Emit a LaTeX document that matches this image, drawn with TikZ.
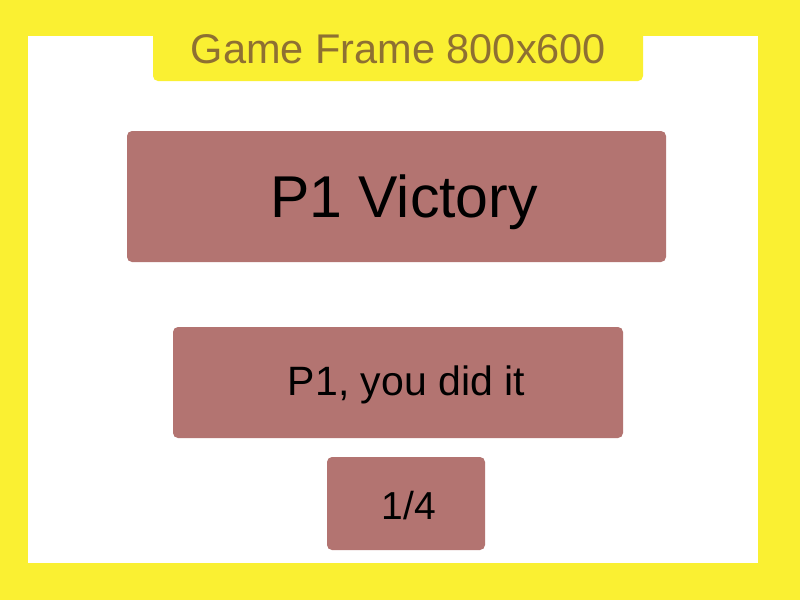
\documentclass[tikz,border=0pt]{standalone}
\usepackage{fontspec}
\setmainfont{Liberation Sans}
\definecolor{frameyellow}{RGB}{250,240,50}
\definecolor{titlebrown}{RGB}{142,112,50}
\definecolor{panelred}{RGB}{179,116,113}
\tikzset{
	panel/.style={rectangle, fill=panelred, rounded corners=5pt, inner sep=0pt},
	caption/.style={anchor=base, inner sep=0pt, text=black}
}

\begin{document}
\begin{tikzpicture}[x=1pt, y=-1pt]
		\useasboundingbox (0, 0) rectangle (800, 600);
		\fill[frameyellow] (0, 0) rectangle (800, 600);
		\fill[white] (28, 36) rectangle (758, 563);
		\fill[frameyellow, rounded corners=5pt] (153, 20) rectangle (643, 81);
		\fill[frameyellow] (153, 20) rectangle (643, 60);

		\node[caption, text=titlebrown, font=\fontsize{41.5}{44}\selectfont] (title) at (398.5, 63) {Game Frame 800x600};

		\node[panel, minimum width=539pt, minimum height=131pt] (victory) at (396.5, 196.5) {};
		\node[panel, minimum width=450pt, minimum height=111pt] (message) at (398, 382.5) {};
		\node[panel, minimum width=158pt, minimum height=93pt] (counter) at (406, 503.5) {};

		\node[caption, font=\fontsize{59}{62}\selectfont] (victorytext) at (404, 217) {P1 Victory};
		\node[caption, font=\fontsize{41}{44}\selectfont] (messagetext) at (406.5, 395) {P1, you did it};
		\node[caption, font=\fontsize{39}{42}\selectfont] (countertext) at (409, 519.5) {1/4};
	\end{tikzpicture}
\end{document}
